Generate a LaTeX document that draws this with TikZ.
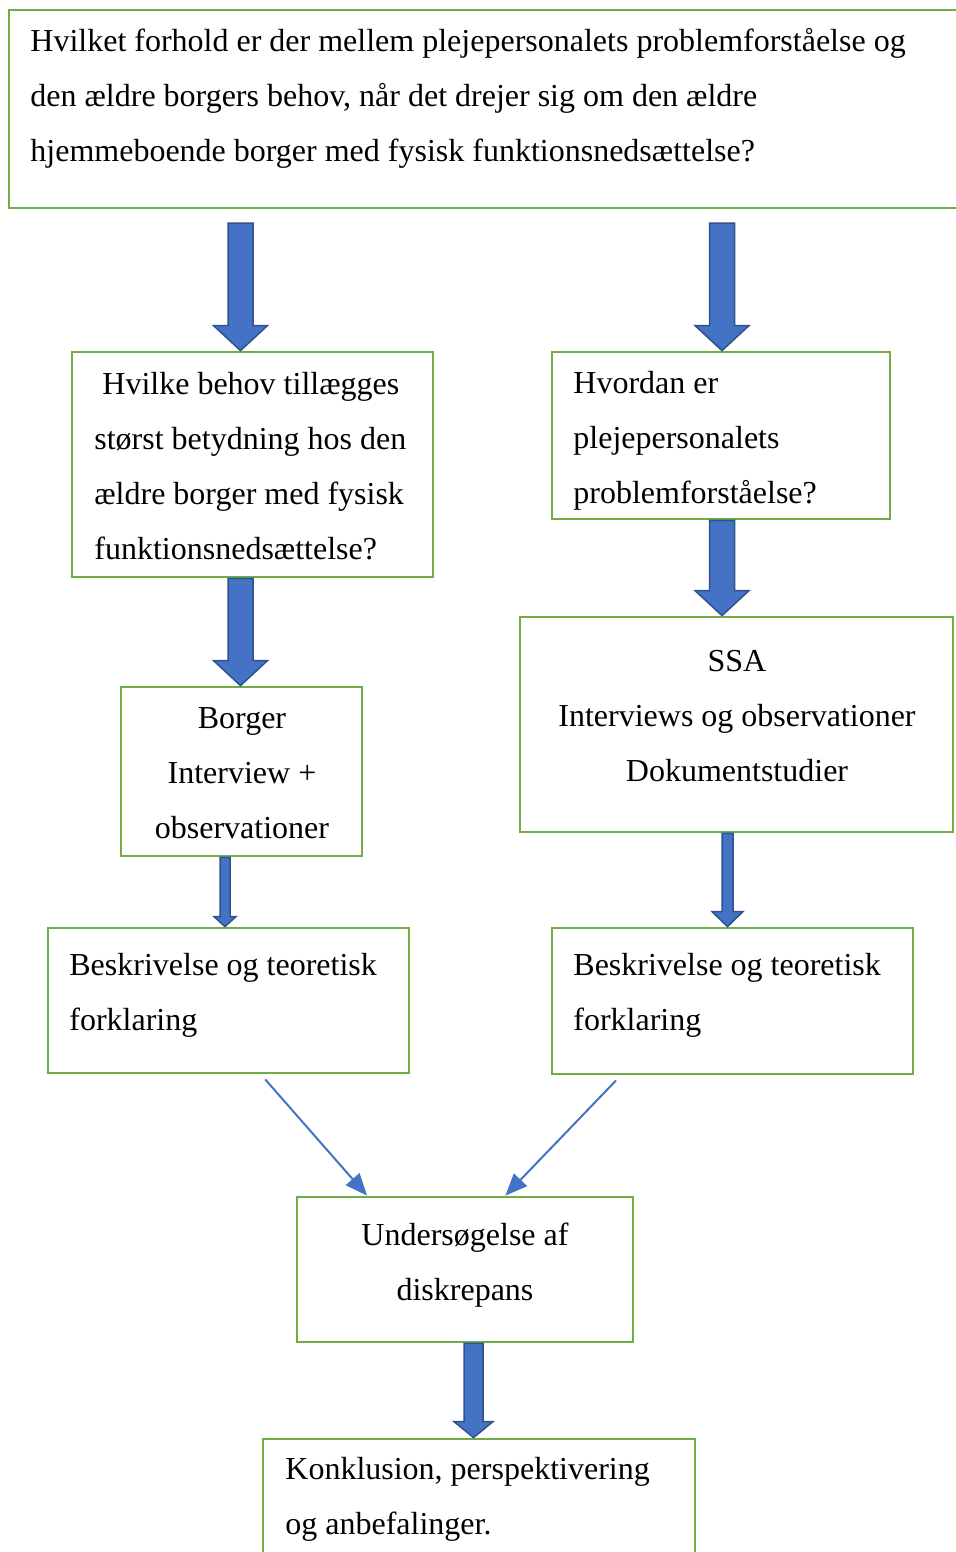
\documentclass[tikz,border=0pt]{standalone}
\usepackage{fontspec}
\setmainfont{Liberation Serif}
\usetikzlibrary{calc,arrows.meta,fit}
\definecolor{BoxGreen}{HTML}{70AD47}
\definecolor{ArrFill}{HTML}{4472C4}
\definecolor{ArrEdge}{HTML}{2F528F}
% block arrow: start, tip, half shaft, half head, head length
\newcommand{\blockarr}[5]{%
  \draw[blockarrow] let \p1=(#1), \p2=(#2) in
    (\x1-#3,\y1) -- (\x1+#3,\y1) -- (\x1+#3,\y2+#5) -- (\x1+#4,\y2+#5)
    -- (\x1,\y2) -- (\x1-#4,\y2+#5) -- (\x1-#3,\y2+#5) -- cycle;}

\begin{document}
\begin{tikzpicture}[x=0.5pt,y=-0.5pt,
  frame/.style={draw=BoxGreen, line width=1.4pt, inner sep=0pt},
  txt/.style={font=\fontsize{16}{27.5}\selectfont, inner sep=0pt, align=left, anchor=north west},
  ctxt/.style={txt, align=center, anchor=north},
  blockarrow/.style={fill=ArrFill, draw=ArrEdge, line width=0.75pt, line join=miter},
  thinarrow/.style={draw=ArrFill, line width=1pt, -{Triangle[length=11pt,width=9pt]}}]
  \useasboundingbox (0,0) rectangle (955,1552);

  % frames
  \node[frame, fit={(9,10) (975,208)}] (q) {};
  \node[frame, fit={(72,352) (433,577)}] (behov) {};
  \node[frame, fit={(552,352) (890,519)}] (hvordan) {};
  \node[frame, fit={(121,687) (362,856)}] (borger) {};
  \node[frame, fit={(520,617) (953,832)}] (ssa) {};
  \node[frame, fit={(48,928) (409,1073)}] (beskrL) {};
  \node[frame, fit={(552,928) (913,1074)}] (beskrR) {};
  \node[frame, fit={(297,1197) (633,1342)}] (unders) {};
  \node[frame, fit={(263,1439) (695,1575)}] (konkl) {};

  % texts
  \node[txt] (q-t) at (30,12.5) {\strut Hvilket forhold er der mellem plejepersonalets problemforståelse og\\
    den ældre borgers behov, når det drejer sig om den ældre\\
    hjemmeboende borger med fysisk funktionsnedsættelse?};
  \node[txt] (behov-t) at (94,355.5) {\strut\hspace*{4pt}Hvilke behov tillægges\\
    størst betydning hos den\\ ældre borger med fysisk\\ funktionsnedsættelse?};
  \node[txt] (hvordan-t) at (573,354.5) {\strut Hvordan er\\ plejepersonalets\\ problemforståelse?};
  \node[ctxt] (borger-t) at (242,689.5) {\strut Borger\\ Interview +\\ observationer};
  \node[ctxt] (ssa-t) at (737,632.5) {\strut SSA\\ Interviews og observationer\\ Dokumentstudier};
  \node[txt] (beskrL-t) at (69,936.5) {\strut Beskrivelse og teoretisk\\ forklaring};
  \node[txt] (beskrR-t) at (573,936.5) {\strut Beskrivelse og teoretisk\\ forklaring};
  \node[ctxt] (unders-t) at (465,1206.5) {\strut Undersøgelse af\\ diskrepans};
  \node[txt] (konkl-t) at (285,1440.5) {\strut Konklusion, perspektivering\\ og anbefalinger.};

  % block arrows
  \coordinate (a1) at (240.5,223);
  \coordinate (a2) at (722,223);
  \coordinate (a5) at (225,856);
  \coordinate (a6) at (727.5,832);
  \coordinate (a7) at (473.5,1342);
  \blockarr{a1}{behov.north -| a1}{6.25pt}{13.5pt}{12.5pt}
  \blockarr{a2}{hvordan.north -| a2}{6.25pt}{13.5pt}{12.5pt}
  \blockarr{behov.south -| a1}{borger.north -| a1}{6.25pt}{13.5pt}{12.5pt}
  \blockarr{hvordan.south -| a2}{ssa.north -| a2}{6.25pt}{13.5pt}{12.5pt}
  \blockarr{borger.south -| a5}{beskrL.north -| a5}{2.5pt}{5.5pt}{5pt}
  \blockarr{ssa.south -| a6}{beskrR.north -| a6}{2.75pt}{7.75pt}{7.5pt}
  \blockarr{unders.south -| a7}{konkl.north -| a7}{4.75pt}{9.75pt}{8pt}

  % thin arrows
  \draw[thinarrow] ($(beskrL.south west)!0.601!(beskrL.south east)+(0,5)$)
    -- ($(unders.north west)!0.211!(unders.north east)$);
  \draw[thinarrow] ($(beskrR.south west)!0.18!(beskrR.south east)+(0,5)$)
    -- ($(unders.north west)!0.619!(unders.north east)$);
\end{tikzpicture}
\end{document}
